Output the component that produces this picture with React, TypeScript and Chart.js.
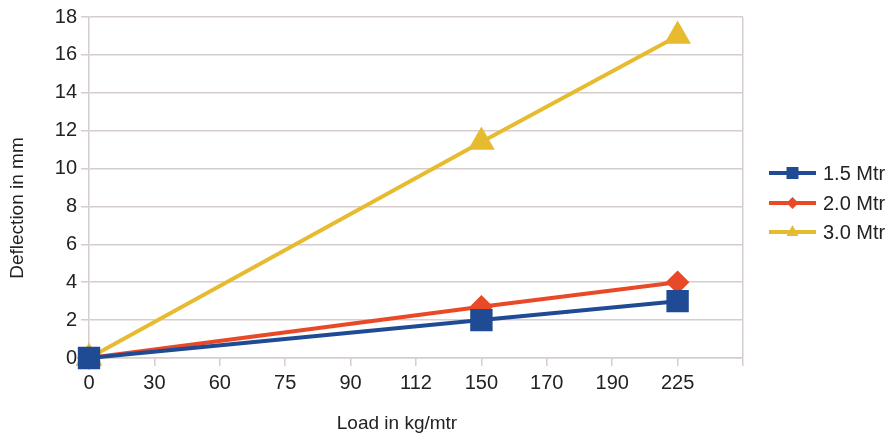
import React, { useEffect, useRef } from "react";
import { Chart, registerables } from "chart.js";

Chart.register(...registerables);

const categories = ["0", "30", "60", "75", "90", "112", "150", "170", "190", "225", ""];
const series15 = [0, null, null, null, null, null, 2, null, null, 3, null];
const series20 = [0, null, null, null, null, null, 2.7, null, null, 4, null];
const series30 = [0, null, null, null, null, null, 11.4, null, null, 17, null];
const seriesLabels = ["1.5 Mtr", "2.0 Mtr", "3.0 Mtr"];
const yTicks = [0, 2, 4, 6, 8, 10, 12, 14, 16, 18];
const xTitle = "Load in kg/mtr";
const yTitle = "Deflection in mm";

const BLUE = "#1f4a94";
const RED = "#e84a28";
const YELLOW = "#e7bb30";
const GRID = "#d6cdcd";
const TEXT = "#222222";
const FONT = "'Liberation Sans', Arial, sans-serif";

const decorPlugin = {
  id: "decor",
  afterDraw(chart: any) {
    const ctx = chart.ctx;
    ctx.save();
    ctx.fillStyle = TEXT;
    ctx.font = `19px ${FONT}`;
    ctx.textAlign = "center";
    ctx.textBaseline = "middle";
    ctx.fillText(xTitle, 397, 424);
    ctx.save();
    ctx.translate(18, 208);
    ctx.rotate(-Math.PI / 2);
    ctx.fillText(yTitle, 0, 0);
    ctx.restore();

    const x0 = 769;
    const x1 = 816;
    const ys = [173, 203, 232];
    chart.data.datasets.forEach((ds: any, i: number) => {
      const y = ys[i];
      ctx.strokeStyle = ds.borderColor;
      ctx.lineWidth = 4;
      ctx.beginPath();
      ctx.moveTo(x0, y);
      ctx.lineTo(x1, y);
      ctx.stroke();
      const cx = (x0 + x1) / 2;
      ctx.fillStyle = ds.borderColor;
      ctx.beginPath();
      if (ds.pointStyle === "rect") {
        ctx.rect(cx - 6, y - 6, 12, 12);
      } else if (ds.pointStyle === "rectRot") {
        ctx.moveTo(cx, y - 6);
        ctx.lineTo(cx + 6, y);
        ctx.lineTo(cx, y + 6);
        ctx.lineTo(cx - 6, y);
        ctx.closePath();
      } else {
        ctx.moveTo(cx, y - 7);
        ctx.lineTo(cx + 6, y + 4);
        ctx.lineTo(cx - 6, y + 4);
        ctx.closePath();
      }
      ctx.fill();
      ctx.fillStyle = TEXT;
      ctx.font = `20px ${FONT}`;
      ctx.textBaseline = "middle";
      ctx.textAlign = "left";
      ctx.fillText(ds.label, 823, y + 1);
    });
    ctx.restore();
  },
};

export default function App() {
  const ref = useRef<HTMLCanvasElement | null>(null);
  useEffect(() => {
    if (!ref.current) return;
    const chart = new Chart(ref.current, {
      type: "line",
      data: {
        labels: categories,
        datasets: [
          {
            label: seriesLabels[0],
            data: series15,
            borderColor: BLUE,
            backgroundColor: BLUE,
            borderWidth: 4,
            pointStyle: "rect",
            pointRadius: 13,
            spanGaps: true,
            clip: false,
          },
          {
            label: seriesLabels[1],
            data: series20,
            borderColor: RED,
            backgroundColor: RED,
            borderWidth: 4,
            pointStyle: "rectRot",
            pointRadius: 9,
            spanGaps: true,
            clip: false,
          },
          {
            label: seriesLabels[2],
            data: series30,
            borderColor: YELLOW,
            backgroundColor: YELLOW,
            borderWidth: 4,
            pointStyle: "triangle",
            pointRadius: 11.5,
            spanGaps: true,
            clip: false,
          },
        ] as any,
      },
      options: {
        animation: false,
        responsive: false,
        maintainAspectRatio: false,
        layout: { padding: { left: 0, right: 149, top: 14, bottom: 0 } },
        plugins: {
          legend: { display: false },
          tooltip: { enabled: false },
        },
        scales: {
          x: {
            type: "category",
            offset: false,
            afterFit: (s: any) => {
              s.height = 80;
              s.paddingLeft = 0;
              s.paddingRight = 0;
            },
            grid: {
              color: (c: any) => (c.index === categories.length - 1 ? GRID : "transparent"),
              tickColor: GRID,
              tickLength: 8,
              lineWidth: 1.5,
            },
            border: { color: GRID, width: 1.5 },
            ticks: {
              color: TEXT,
              font: { family: FONT, size: 20 },
              padding: 5,
              maxRotation: 0,
              autoSkip: false,
            },
          },
          y: {
            min: 0,
            max: 18,
            afterFit: (s: any) => {
              s.width = 89;
              s.paddingTop = 0;
              s.paddingBottom = 0;
            },
            afterBuildTicks: (s: any) => {
              s.ticks = yTicks.map((v) => ({ value: v }));
            },
            grid: {
              color: GRID,
              tickColor: GRID,
              tickLength: 8,
              lineWidth: 1.5,
            },
            border: { color: GRID, width: 1.5 },
            ticks: {
              color: TEXT,
              font: { family: FONT, size: 20 },
              padding: 4,
            },
          },
        },
      },
      plugins: [decorPlugin],
    });
    return () => chart.destroy();
  }, []);
  return (
    <div style={{ position: "absolute", left: 0, top: 0, width: 892, height: 438, background: "#fff" }}>
      <canvas ref={ref} width={892} height={438} style={{ display: "block" }} />
    </div>
  );
}
